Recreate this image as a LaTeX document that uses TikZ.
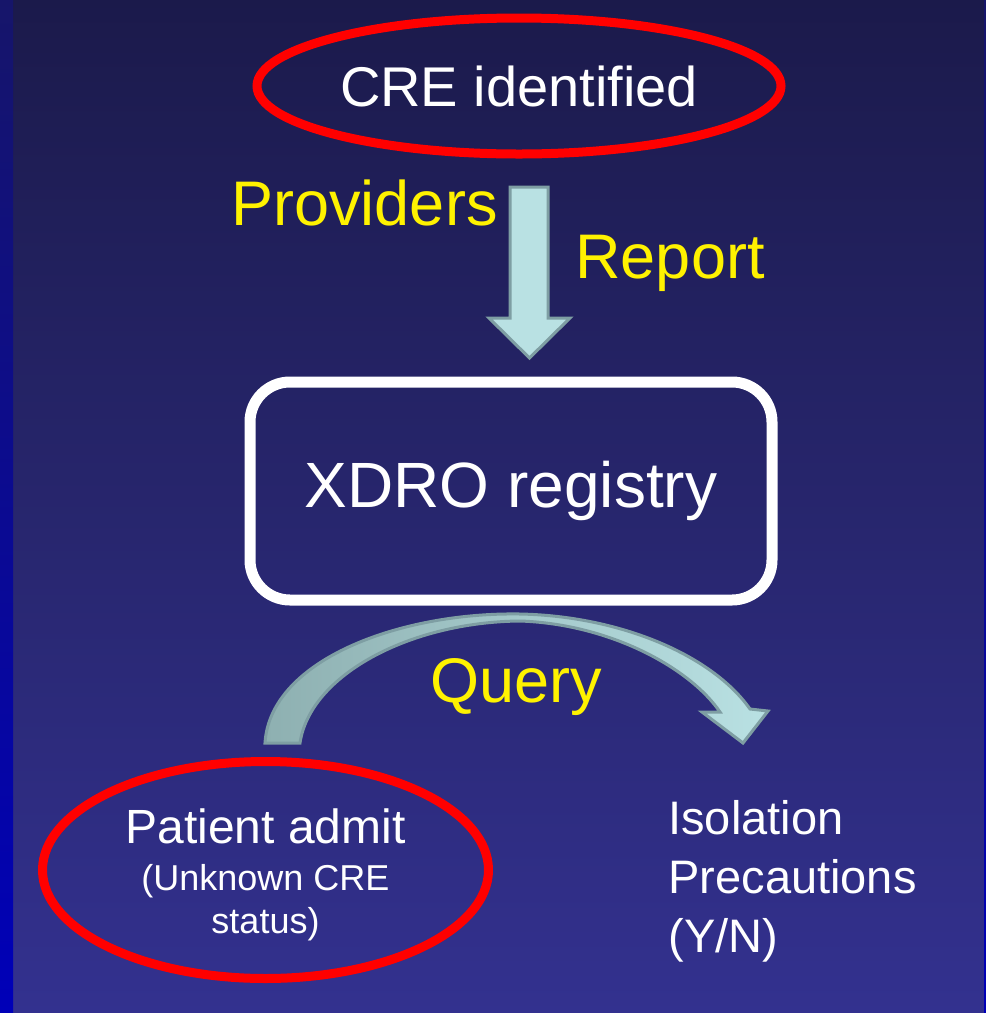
\documentclass[tikz,border=0pt]{standalone}
\usepackage{fontspec}
\setmainfont{Liberation Sans}
\usetikzlibrary{shapes.geometric}

\definecolor{bgtop}{HTML}{1B1A4B}
\definecolor{bgbottom}{HTML}{33318F}
\definecolor{striptop}{HTML}{16156A}
\definecolor{stripbottom}{HTML}{0000B8}
\definecolor{arrowfill}{HTML}{B9E1E3}
\definecolor{arrowdark}{HTML}{8EB0B1}
\definecolor{arrowedge}{HTML}{7E9EA3}

\begin{document}
\begin{tikzpicture}[x=0.5pt,y=-0.5pt]
		% Define styles for the ovals, the box, the labels and the block arrows
		\tikzset{
			redoval/.style={ellipse, draw=red, line width=4.5pt, text=white, inner sep=0pt, align=center},
			regbox/.style={draw=white, line width=5.5pt, rounded corners=20pt, text=white},
			yellowlabel/.style={text=yellow, font=\fontsize{31.5}{36}\selectfont, anchor=base, inner sep=0pt},
			blockarrow/.style={draw=arrowedge, line width=1.5pt, line join=miter}
		}
		\useasboundingbox (0,0) rectangle (986,1013);
		
		% Draw the background with the blue strips at the sides
		\shade[top color=bgtop, bottom color=bgbottom] (0,0) rectangle (986,1013);
		\shade[top color=striptop, bottom color=stripbottom] (0,0) rectangle (13,1013);
		\shade[top color=striptop, bottom color=stripbottom] (984,0) rectangle (986,1013);
		
		% Draw the ovals and the registry box
		\node[redoval, minimum width=262pt, minimum height=68pt, font=\fontsize{28}{32}\selectfont] (cre) at (519,86) {CRE identified};
		\node[regbox, minimum width=261pt, minimum height=109pt, font=\fontsize{32}{36}\selectfont] (xdro) at (511,491) {XDRO registry};
		\node[redoval, minimum width=223pt, minimum height=108.5pt, font=\fontsize{18}{21.5}\selectfont] (admit) at (265.5,870)
			{\rule{0pt}{22.5pt}{\fontsize{24}{26}\selectfont Patient admit}\\[2pt](Unknown CRE\\status)};
		\node[anchor=base west, inner sep=0pt, text=white, align=left, font=\fontsize{23.5}{29.5}\selectfont] (isolation) at (668,952)
			{Isolation\\Precautions\\(Y/N)};
		
		% Add the yellow labels
		\node[yellowlabel] (providers) at (364.5,225) {Providers};
		\node[yellowlabel] (report) at (670,278) {Report};
		\node[yellowlabel] (query) at (516.5,702) {Query};
		
		% Draw the report arrow down to the registry
		\draw[blockarrow, fill=arrowfill] (510,187) -- (548,187) -- (548,318) -- (570,318) -- (529.5,358)
			-- (489,318) -- (510,318) -- cycle;
		
		% Draw the curved query arrow over to the precautions
		\path[blockarrow, left color=arrowdark, right color=arrowfill]
			(265,743) .. controls (270,660) and (400,612) .. (520,614)
			.. controls (620,616) and (712,655) .. (750,709)
			-- (768,711) -- (743,743) -- (702,712) -- (720,712)
			.. controls (690,668) and (610,624) .. (520,621)
			.. controls (410,622) and (310,675) .. (300,743) -- cycle;
	\end{tikzpicture}
\end{document}
